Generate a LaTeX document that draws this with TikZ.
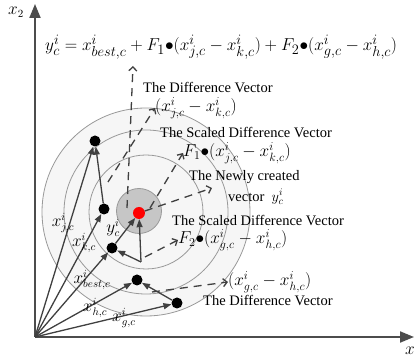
\documentclass[tikz,border=0pt]{standalone}
\usepackage{fontspec}
\setmainfont{Liberation Serif}
\usetikzlibrary{arrows.meta}
\newcommand{\bdot}{\mathord{\bullet}}

\begin{document}
\begin{tikzpicture}[
    x=1pt, y=-1pt,
    vec/.style={draw=black!75, line width=1.3pt, -{Triangle[length=8pt,width=6pt]}},
    dashvec/.style={draw=black!75, line width=1.3pt, dash pattern=on 8pt off 6pt, -{Straight Barb[length=4pt,width=8pt]}},
    ring/.style={draw=gray!80, line width=0.8pt},
    dot/.style={circle, fill=black, inner sep=0pt, minimum size=11pt},
    title/.style={font=\fontsize{14.5}{16}\selectfont, inner sep=0pt, anchor=west},
    expr/.style={font=\fontsize{18}{20}\selectfont, inner sep=0pt, anchor=west},
    lab/.style={font=\fontsize{16}{18}\selectfont, inner sep=0pt},
    axis/.style={draw=gray!60!black, line width=2pt, -{Triangle[length=14pt,width=11pt]}}
]
\useasboundingbox (0,0) rectangle (416,358);

% circles round the new vector
\filldraw[ring, fill=gray!7] (146,212) circle (104);
\draw[ring] (146,212) circle (82);
\draw[ring] (146,212) circle (57);
\filldraw[ring, fill=gray!45] (139,211) circle (22.5);

% axes
\coordinate (O) at (35,337);
\draw[axis] (O) -- (35,4);
\draw[axis] (O) -- (414,337);
\node[lab] (x2) at (16,12) {$x_2$};
\node[lab] (x1) at (410,351) {$x$};

% points
\node[dot] (xj) at (95,141) {};
\node[dot] (xk) at (104,209) {};
\node[dot] (xbest) at (112,248) {};
\node[dot] (xh) at (137,280) {};
\node[dot] (xg) at (177,303) {};
\node[circle, fill=red, inner sep=0pt, minimum size=12pt] (ynew) at (139,213) {};
\coordinate (sF2) at (141,262);

% vectors
\draw[vec] (O) -- (xj);
\draw[vec] (O) -- (xk);
\draw[vec] (O) -- (xbest);
\draw[vec] (O) -- (xh);
\draw[vec] (O) -- (xg);
\draw[vec] (xk) -- (xj);
\draw[vec] (xg) -- (xh);
\draw[vec] (sF2) -- (xbest);
\draw[vec] (sF2) -- (ynew);
\draw[vec] (xbest) -- (ynew);

\node[lab] (lj) at (63,223) {$x^i_{j,c}$};
\node[lab] (lk) at (84,243) {$x^i_{k,c}$};
\node[lab] (ly) at (113,228) {$y^i_c$};
\node[lab] (lbest) at (92,280) {$x^i_{best,c}$};
\node[lab] (lh) at (95,308) {$x^i_{h,c}$};
\node[lab] (lg) at (124,318) {$x^i_{g,c}$};

% texts
\node[expr, font=\fontsize{19}{21}\selectfont] (eq) at (45,47)
  {$y^i_c = x^i_{best,c} + F_1\bdot(x^i_{j,c} - x^i_{k,c}) + F_2\bdot(x^i_{g,c} - x^i_{h,c})$};
\node[title] (d1t) at (143,88) {The Difference Vector};
\node[expr] (d1e) at (155,108) {$(x^i_{j,c} - x^i_{k,c})$};
\node[title] (s1t) at (160,133) {The Scaled Difference Vector};
\node[expr] (s1e) at (183,153) {$F_1\bdot(x^i_{j,c} - x^i_{k,c})$};
\node[title] (n1t) at (189,177) {The Newly created};
\node[title] (n2t) at (228,197) {vector\ \ $y^i_c$};
\node[title] (s2t) at (172,221) {The Scaled Difference Vector};
\node[expr] (s2e) at (178,240) {$F_2\bdot(x^i_{g,c} - x^i_{h,c})$};
\node[expr] (d2e) at (228,282) {$(x^i_{g,c} - x^i_{h,c})$};
\node[title] (d2t) at (203,301) {The Difference Vector};

% dashed pointers
\coordinate (a1) at (127,208);
\coordinate (a2) at (133,66);
\coordinate (b1) at (108,182);
\coordinate (c1) at (150,208);
\coordinate (d1) at (212,188);
\coordinate (e1) at (145,257);
\coordinate (f1) at (152,292);
\draw[dashvec] (a1) -- (a2);
\draw[dashvec] (b1) -- (d1e.west);
\draw[dashvec] (c1) -- (s1e.west);
\draw[dashvec] (ynew) -- (d1);
\draw[dashvec] (e1) -- (s2e.west);
\draw[dashvec] (f1) -- (d2e.west);
\end{tikzpicture}
\end{document}
